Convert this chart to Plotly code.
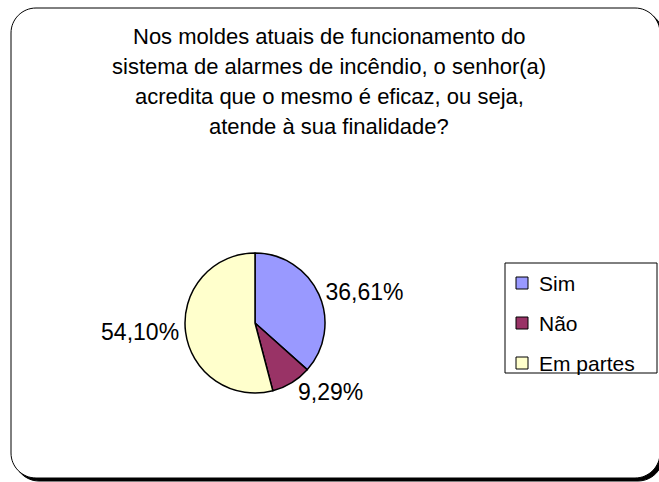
import plotly.graph_objects as go

# dados do grafico
respostas = ['Sim', 'Não', 'Em partes']
percentuais = [36.61, 9.29, 54.10]
cores = ['#9999FF', '#993366', '#FFFFCC']
titulo = [
    'Nos moldes atuais de funcionamento do',
    'sistema de alarmes de incêndio, o senhor(a)',
    'acredita que o mesmo é eficaz, ou seja,',
    'atende à sua finalidade?',
]

W, H = 659, 482
FONTE = 'Liberation Sans, Arial, sans-serif'


def px(x):
    return x / W


def py(y):
    return 1 - y / H


def caixa_arredondada(x0, y0, x1, y1, r):
    k = 0.5523 * r
    pts = [
        f'M {px(x0 + r)},{py(y0)}',
        f'L {px(x1 - r)},{py(y0)}',
        f'C {px(x1 - r + k)},{py(y0)} {px(x1)},{py(y0 + r - k)} {px(x1)},{py(y0 + r)}',
        f'L {px(x1)},{py(y1 - r)}',
        f'C {px(x1)},{py(y1 - r + k)} {px(x1 - r + k)},{py(y1)} {px(x1 - r)},{py(y1)}',
        f'L {px(x0 + r)},{py(y1)}',
        f'C {px(x0 + r - k)},{py(y1)} {px(x0)},{py(y1 - r + k)} {px(x0)},{py(y1 - r)}',
        f'L {px(x0)},{py(y0 + r)}',
        f'C {px(x0)},{py(y0 + r - k)} {px(x0 + r - k)},{py(y0)} {px(x0 + r)},{py(y0)}',
        'Z',
    ]
    return ' '.join(pts)


fig = go.Figure()

# pizza
cx, cy, raio = 255, 323, 70
fig.add_trace(go.Pie(
    labels=respostas,
    values=percentuais,
    sort=False,
    direction='clockwise',
    rotation=0,
    marker=dict(colors=cores, line=dict(color='black', width=1.5)),
    textposition='outside',
    texttemplate='%{percent:.2%}',
    textfont=dict(family=FONTE, size=23, color='black'),
    domain=dict(x=[px(cx - raio), px(cx + raio)], y=[py(cy + raio), py(cy - raio)]),
    showlegend=False,
    hoverinfo='label+percent',
))

shapes = []
# sombra e moldura (lado direito sai um pouco da janela)
shapes.append(dict(type='path', xref='paper', yref='paper',
                   path=caixa_arredondada(14, 11, 663, 481, 25),
                   fillcolor='black', line=dict(color='black', width=1), layer='below'))
shapes.append(dict(type='path', xref='paper', yref='paper',
                   path=caixa_arredondada(11, 8, 660, 478, 25),
                   fillcolor='white', line=dict(color='black', width=1), layer='below'))

# legenda
shapes.append(dict(type='rect', xref='paper', yref='paper',
                   x0=px(505), x1=px(657), y0=py(373), y1=py(263),
                   fillcolor='rgba(0,0,0,0)', line=dict(color='black', width=1)))

annotations = []
for i, (nome, cor) in enumerate(zip(respostas, cores)):
    yc = 283 + 40 * i
    shapes.append(dict(type='rect', xref='paper', yref='paper',
                       x0=px(516), x1=px(528), y0=py(yc + 6), y1=py(yc - 6),
                       fillcolor=cor, line=dict(color='black', width=1)))
    annotations.append(dict(x=px(537), y=py(yc), xref='paper', yref='paper',
                            text=nome, showarrow=False, xanchor='left', yanchor='middle',
                            font=dict(family=FONTE, size=21, color='black')))

# titulo, uma linha por anotacao
for i, linha in enumerate(titulo):
    annotations.append(dict(x=px(329), y=py(37 + 30 * i), xref='paper', yref='paper',
                            text=linha, showarrow=False, xanchor='center', yanchor='middle',
                            font=dict(family=FONTE, size=22, color='black')))

fig.update_layout(
    width=W, height=H,
    margin=dict(l=0, r=0, t=0, b=0),
    paper_bgcolor='white',
    plot_bgcolor='white',
    separators=',.',
    shapes=shapes,
    annotations=annotations,
)

# tira a margem padrao do body para a figura ocupar a janela toda
fig.write_html('out.html', config={'displayModeBar': False},
               post_script="document.body.style.margin='0';")
